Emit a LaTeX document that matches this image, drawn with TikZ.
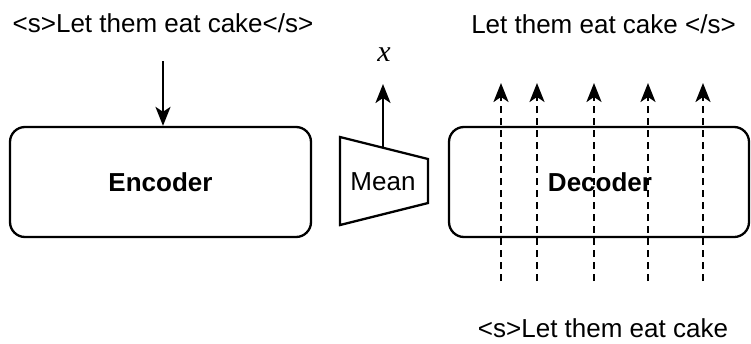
\documentclass[tikz,border=0pt]{standalone}
\usepackage{fontspec}
\setmainfont{Liberation Sans}
\newfontfamily\serifx{Liberation Serif}
\usetikzlibrary{arrows.meta}
\begin{document}
\begin{tikzpicture}[x=1pt,y=-1pt,
  lbl/.style={font=\fontsize{26}{30}\selectfont, inner sep=0pt, anchor=base},
  blk/.style={draw, line width=2.3pt, rounded corners=15pt},
  arr/.style={line width=2.3pt, -{Stealth[length=19pt, width=15pt, inset=5pt]}},
  darr/.style={arr, dash pattern=on 7pt off 5pt}]
\useasboundingbox (0,0) rectangle (751,343);
% boxes
\node[blk, minimum width=301pt, minimum height=110pt, inner sep=0pt] (enc) at (160.5,182)
  {\fontsize{26}{30}\selectfont\bfseries Encoder};
\node[blk, minimum width=300pt, minimum height=110pt, inner sep=0pt] (dec) at (599,182) {};
\node[font=\fontsize{26}{30}\selectfont\bfseries, inner sep=0pt] (dectxt) at (600,182) {Decoder};
% mean trapezoid
\coordinate (m1) at (340,137);
\coordinate (m2) at (428,159);
\coordinate (m3) at (428,203);
\coordinate (m4) at (340,225);
\draw[line width=2.3pt, line join=miter] (m1) -- (m2) -- (m3) -- (m4) -- cycle;
\node[font=\fontsize{26}{30}\selectfont, inner sep=0pt] (mean) at (383,182) {Mean};
\coordinate (mtop) at (383,147.7);
% labels
\node[lbl] (inp) at (163,32) {<s>Let them eat cake</s>};
\node[lbl] (outp) at (603.5,33) {Let them eat cake </s>};
\node[lbl] (dinp) at (603,337) {<s>Let them eat cake};
\node[font=\serifx\itshape\fontsize{30}{32}\selectfont, inner sep=0pt] (xl) at (384,55) {x};
% arrows
\coordinate (encin) at (163,61);
\draw[arr] (encin) -- (enc.north -| encin);
\coordinate (xt) at (383,84);
\draw[arr] (mtop) -- (xt);
\foreach \i/\xx in {1/501,2/537,3/594,4/648,5/703}{
  \coordinate (b\i) at (\xx,281);
  \coordinate (t\i) at (\xx,83);
  \draw[darr] (b\i) -- (t\i);
}
\end{tikzpicture}
\end{document}
